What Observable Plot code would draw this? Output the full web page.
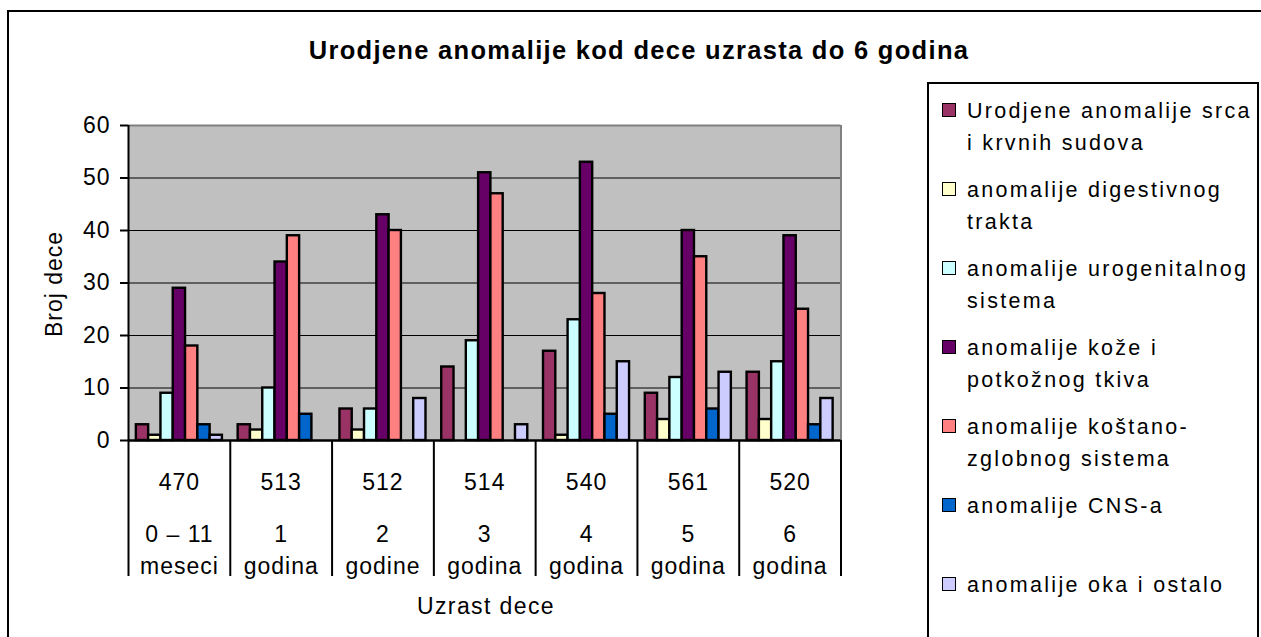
<!DOCTYPE html>
<html>
<head>
<meta charset="utf-8">
<script src="https://cdn.jsdelivr.net/npm/d3@7"></script>
<script src="https://cdn.jsdelivr.net/npm/@observablehq/plot@0.6"></script>
<style>
  html, body { margin: 0; padding: 0; background: #fff; }
  #wrap { position: relative; width: 1261px; height: 637px; overflow: hidden; background: #fff;
          font-family: "Liberation Sans", Arial, Helvetica, sans-serif; color: #000; }
  #wrap svg { position: absolute; left: 0; top: 0; }
  .abs { position: absolute; box-sizing: border-box; }
  #wrap svg g[aria-label="y-axis tick"] *, #wrap svg g[aria-label="y-axis"] line { stroke-width: 2px; }
</style>
</head>
<body>
<div id="wrap"></div>
<script>
// ---- data ----
const ageLabels = ["0 – 11\nmeseci", "1\ngodina", "2\ngodine", "3\ngodina", "4\ngodina", "5\ngodina", "6\ngodina"];
const childCounts = [470, 513, 512, 514, 540, 561, 520];
const seriesNames = [
  "Urodjene anomalije srca i krvnih sudova",
  "anomalije digestivnog trakta",
  "anomalije urogenitalnog sistema",
  "anomalije kože i potkožnog tkiva",
  "anomalije koštano-zglobnog sistema",
  "anomalije CNS-a",
  "anomalije oka i ostalo"
];
const seriesColors = ["#993366", "#FFFFCC", "#CCFFFF", "#660066", "#FF8080", "#0066CC", "#CCCCFF"];
const srca         = [3, 3, 6, 14, 17, 9, 13];
const digestivni   = [1, 2, 2, 0, 1, 4, 4];
const urogenitalni = [9, 10, 6, 19, 23, 12, 15];
const koza         = [29, 34, 43, 51, 53, 40, 39];
const kostani      = [18, 39, 40, 47, 28, 35, 25];
const cns          = [3, 5, 0, 0, 5, 6, 3];
const oko          = [1, 0, 8, 3, 15, 13, 8];
const yTicks = [0, 10, 20, 30, 40, 50, 60];
const chartTitle = "Urodjene anomalije kod dece uzrasta do 6 godina";
const yTitle = "Broj dece";
const xTitle = "Uzrast dece";

// ---- layout ----
const W = 1261, H = 637;
const mLeft = 128, mRight = 420.5, mTop = 125, mBottom = 197;
const plotH = H - mTop - mBottom;
const tableH = 136;
const gapUnits = 0.64; // outer padding of each group, in bar widths

const seriesValues = [srca, digestivni, urogenitalni, koza, kostani, cns, oko];
const nG = ageLabels.length, nS = seriesNames.length;
const bars = [];
seriesValues.forEach((vals, si) => vals.forEach((v, gi) => bars.push({gi, si, series: seriesNames[si], value: v})));
const step = 1 / (nS + 2 * gapUnits);
const yMax = yTicks[yTicks.length - 1];
const gridValues = yTicks.filter(v => v > 0 && v < yMax);

const chart = Plot.plot({
  width: W, height: H,
  marginLeft: mLeft, marginRight: mRight, marginTop: mTop, marginBottom: mBottom,
  style: {fontFamily: '"Liberation Sans", Arial, sans-serif', fontSize: "23px", letterSpacing: "1px",
          background: "transparent", overflow: "visible", color: "#000"},
  x: {domain: [0, nG], axis: null},
  y: {domain: [0, yMax], ticks: yTicks, tickSize: 8, tickPadding: 10, label: null},
  color: {domain: seriesNames, range: seriesColors},
  marks: [
    Plot.frame({fill: "#C0C0C0", stroke: null}),
    Plot.ruleY(gridValues, {stroke: "#000", strokeWidth: 1.2}),
    Plot.ruleY([yMax], {stroke: "#808080", strokeWidth: 2}),
    Plot.ruleX([nG], {stroke: "#808080", strokeWidth: 2}),
    Plot.rectY(bars.filter(d => d.value > 0), {
      x1: d => d.gi + (gapUnits + d.si) * step,
      x2: d => d.gi + (gapUnits + d.si + 1) * step,
      y1: 0, y2: "value",
      fill: "series", stroke: "#000", strokeWidth: 2.4
    }),
    Plot.ruleY([0], {stroke: "#000", strokeWidth: 2.5}),
    Plot.ruleX([0], {stroke: "#000", strokeWidth: 2}),
    Plot.ruleX(d3.range(nG + 1), {x: d => d, stroke: "#000", strokeWidth: 2, insetTop: plotH, insetBottom: -tableH}),
    Plot.text(childCounts, {x: (d, i) => i + 0.5, text: d => String(d), frameAnchor: "bottom", lineAnchor: "middle", dy: 42, fontSize: 23, fill: "#000"}),
    Plot.text(ageLabels, {x: (d, i) => i + 0.5, text: d => d, frameAnchor: "bottom", lineAnchor: "middle", dy: 107, lineHeight: 1.42, fontSize: 23, fill: "#000"})
  ]
});

const wrap = document.getElementById("wrap");
wrap.appendChild(chart);

function addDiv(css, text) {
  const el = document.createElement("div");
  el.className = "abs";
  el.style.cssText += css;
  if (text != null) el.textContent = text;
  wrap.appendChild(el);
  return el;
}

// outer chart border
addDiv("left:7px;top:10px;width:1300px;height:700px;border:2px solid #000;");
// title
addDiv("left:0px;top:34.6px;width:1278px;text-align:center;font-weight:bold;font-size:25.5px;letter-spacing:1.3px;line-height:30px;white-space:nowrap;", chartTitle);
// y axis title
addDiv("left:-46.5px;top:269px;width:200px;height:30px;line-height:30px;text-align:center;font-size:23px;letter-spacing:1px;transform:rotate(-90deg);white-space:nowrap;", yTitle);
// x axis title
addDiv("left:336px;top:591px;width:300px;line-height:30px;text-align:center;font-size:23px;letter-spacing:1.4px;white-space:nowrap;", xTitle);
// legend
addDiv("left:927px;top:82px;width:332px;height:700px;border:2px solid #000;");
seriesNames.forEach((name, i) => {
  const base = 119.3 + 79 * i;
  addDiv(`left:942px;top:${base - 16.2}px;width:13.5px;height:13.5px;border:1.6px solid #000;background:${seriesColors[i]};`);
  addDiv(`left:967px;top:${base - 23.2}px;width:292px;font-size:21.5px;letter-spacing:2.3px;line-height:31.5px;white-space:normal;`, name);
});
</script>
</body>
</html>
